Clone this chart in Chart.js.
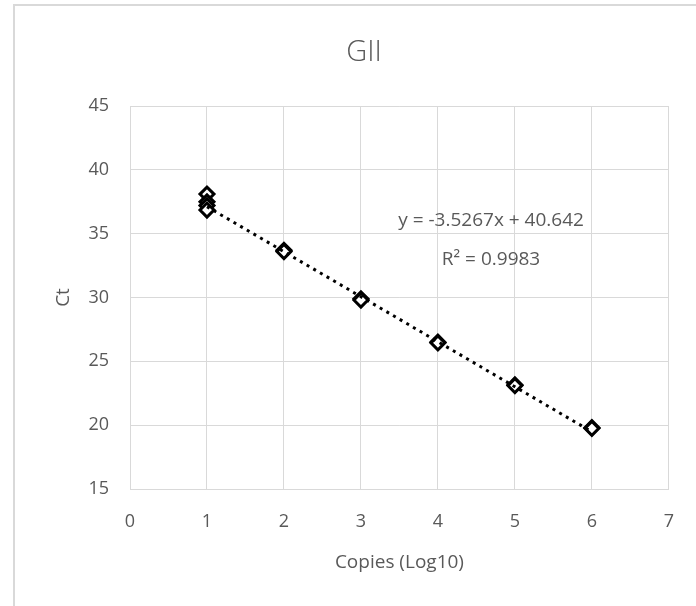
<!DOCTYPE html>
<html><head><meta charset="utf-8">
<script src="https://cdn.jsdelivr.net/npm/chart.js@4/dist/chart.umd.min.js"></script>
<style>
html,body{margin:0;padding:0;background:#fff;overflow:hidden}
#wrap{position:relative;width:696px;height:606px}
#frame{position:absolute;left:13px;top:4px;width:720px;height:640px;border:2px solid #d9d9d9;box-sizing:border-box;pointer-events:none}
canvas{position:absolute;left:0;top:0}
</style></head><body>
<div id="wrap"><canvas id="c" width="696" height="606"></canvas><div id="frame"></div></div>
<script>
// ---- data ----
const chartTitle = 'GII';
const xAxisTitle = 'Copies (Log10)';
const yAxisTitle = 'Ct';
const copiesLog10 = [1, 1, 1, 1, 2, 2, 3, 3, 4, 4, 5, 5, 6, 6];
const ctValues    = [38.1, 37.5, 37.2, 36.85, 33.7, 33.6, 29.9, 29.8, 26.5, 26.45, 23.15, 23.1, 19.8, 19.75];
const trendSlope = -3.5267;
const trendIntercept = 40.642;
const trendR2 = 0.9983;
const trendRange = [1, 6];
const xTickRange = [0, 7];
const yTickRange = [15, 45];

const points = copiesLog10.map((x, i) => ({x: x, y: ctValues[i]}));
const trend = trendRange.map(x => ({x: x, y: trendSlope * x + trendIntercept}));
const eqText = 'y = ' + trendSlope + 'x + ' + trendIntercept;
const r2Text = 'R\u00B2 = ' + trendR2;

Chart.defaults.font.family = '"Open Sans", "Noto Sans", sans-serif';
Chart.defaults.color = '#595959';

const textPlugin = {
  id: 'texts',
  afterDraw(chart) {
    const ctx = chart.ctx, xs = chart.scales.x, ys = chart.scales.y;
    ctx.save();
    ctx.fillStyle = '#595959';
    ctx.textAlign = 'center';
    ctx.textBaseline = 'middle';
    ctx.font = '300 29px "Open Sans", "Noto Sans", sans-serif';
    ctx.fillText(chartTitle, 364, 53);
    ctx.font = '19px "Open Sans", "Noto Sans", sans-serif';
    ctx.fillText(eqText, xs.getPixelForValue(4.69), ys.getPixelForValue(36.0));
    ctx.fillText(r2Text, xs.getPixelForValue(4.69), ys.getPixelForValue(33.0));
    ctx.restore();
  }
};

new Chart(document.getElementById('c'), {
  type: 'scatter',
  data: {
    datasets: [
      {
        label: 'Trend',
        data: trend,
        showLine: true,
        borderColor: '#000',
        borderWidth: 3,
        borderDash: [3, 4.7],
        pointRadius: 0,
        fill: false
      },
      {
        label: 'Ct',
        data: points,
        pointStyle: 'rectRot',
        pointRadius: 7,
        pointBorderWidth: 3,
        pointBorderColor: '#000',
        pointBackgroundColor: '#fff'
      }
    ]
  },
  plugins: [textPlugin],
  options: {
    responsive: false,
    animation: false,
    devicePixelRatio: 1,
    layout: {padding: {top: 106, right: 12, left: 0, bottom: 0}},
    plugins: {legend: {display: false}, tooltip: {enabled: false}, title: {display: false}},
    scales: {
      x: {
        type: 'linear',
        min: xTickRange[0], max: xTickRange[1],
        afterFit: s => { s.height = 117; },
        grid: {color: '#d9d9d9', drawTicks: false, lineWidth: 1},
        border: {color: '#d9d9d9', width: 1},
        ticks: {stepSize: 1, padding: 22, font: {size: 18}, color: '#595959'},
        title: {display: true, text: xAxisTitle, font: {size: 19}, color: '#595959', padding: {top: 0, bottom: 32}}
      },
      y: {
        min: yTickRange[0], max: yTickRange[1],
        afterFit: s => { s.width = 130; },
        grid: {color: '#d9d9d9', drawTicks: false, lineWidth: 1},
        border: {color: '#d9d9d9', width: 1},
        ticks: {stepSize: 5, padding: 21, font: {size: 18}, color: '#595959'},
        title: {display: true, text: yAxisTitle, font: {size: 19}, color: '#595959', padding: {top: 52, bottom: 0}}
      }
    }
  }
});
</script>
</body></html>
